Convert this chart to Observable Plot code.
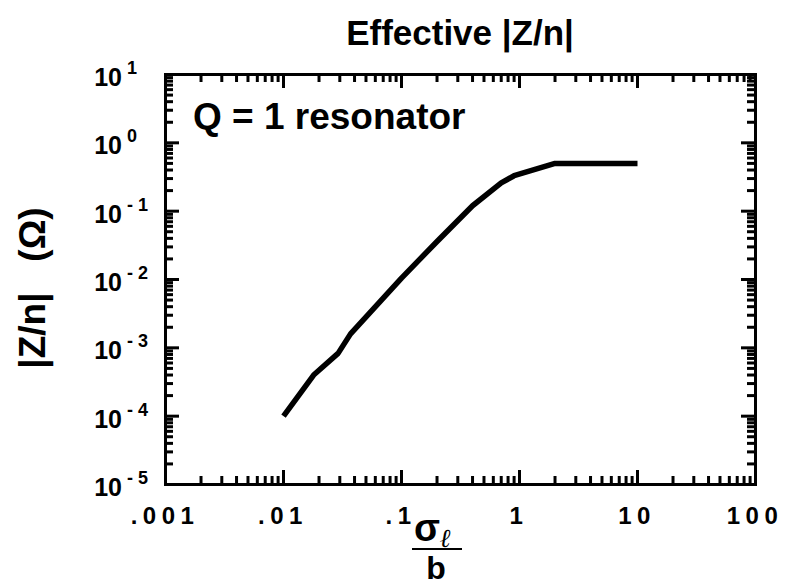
<!DOCTYPE html>
<html><head><meta charset="utf-8">
<script src="https://cdn.jsdelivr.net/npm/d3@7"></script>
<script src="https://cdn.jsdelivr.net/npm/@observablehq/plot@0.6"></script>
<style>
html,body{margin:0;padding:0;background:#fff;}
#chart{width:786px;height:585px;position:relative;}
</style></head><body><div id="chart"></div>
<script>
// Curve: sigma_l / b  vs  |Z/n| (Ohm)
const sigmaOverB = [0.01, 0.018, 0.029, 0.037, 0.1, 0.2, 0.4, 0.7, 0.9, 2, 10];
const zOverN     = [1e-4, 4e-4, 8.3e-4, 1.6e-3, 0.0105, 0.036, 0.12, 0.26, 0.33, 0.5, 0.5];

const xMajor = [0.001, 0.01, 0.1, 1, 10, 100];
const xTickLabels = [".001", ".01", ".1", "1", "10", "100"];
const yMajor = [1e-5, 1e-4, 1e-3, 1e-2, 1e-1, 1, 10];
const yExponents = ["- 5", "- 4", "- 3", "- 2", "- 1", "0", "1"];
const minorMultipliers = [2, 3, 4, 5, 6, 7, 8, 9];

const titleText = "Effective |Z/n|";
const annotationText = "Q = 1 resonator";
const yLabelText = "|Z/n|\u00a0\u00a0\u00a0(\u03a9)";

const xMinor = xMajor.slice(0, -1).flatMap(d => minorMultipliers.map(m => d * m));
const yMinor = yMajor.slice(0, -1).flatMap(d => minorMultipliers.map(m => d * m));
const data = sigmaOverB.map((x, i) => ({x, y: zOverN[i]}));

const FONT = "Liberation Sans, Arial, Helvetica, sans-serif";
const W = 786, H = 585, mL = 165, mR = 31, mT = 74, mB = 101;
const fw = W - mL - mR, fh = H - mT - mB;
const minorLen = 8, majorLen = 14;
const tk = {stroke: "#000", strokeWidth: 3};

const plot = Plot.plot({
  width: W, height: H,
  marginLeft: mL, marginRight: mR, marginTop: mT, marginBottom: mB,
  x: {type: "log", domain: [0.001, 100], axis: null},
  y: {type: "log", domain: [1e-5, 10], axis: null},
  marks: [
    Plot.ruleX(xMinor, {x: d => d, insetTop: fh - minorLen, ...tk}),
    Plot.ruleX(xMajor, {x: d => d, insetTop: fh - majorLen, ...tk}),
    Plot.ruleX(xMinor, {x: d => d, insetBottom: fh - minorLen, ...tk}),
    Plot.ruleX(xMajor, {x: d => d, insetBottom: fh - majorLen, ...tk}),
    Plot.ruleY(yMinor, {y: d => d, insetRight: fw - minorLen, ...tk}),
    Plot.ruleY(yMajor, {y: d => d, insetRight: fw - majorLen, ...tk}),
    Plot.ruleY(yMinor, {y: d => d, insetLeft: fw - minorLen, ...tk}),
    Plot.ruleY(yMajor, {y: d => d, insetLeft: fw - majorLen, ...tk}),
    Plot.frame({stroke: "#000", strokeWidth: 3}),
    Plot.line(data, {x: "x", y: "y", stroke: "#000", strokeWidth: 5.5, strokeLinejoin: "round", strokeLinecap: "butt"})
  ]
});

const svg = d3.select(plot);

// tick labels placed with the plot's own scales
const sx = plot.scale("x"), sy = plot.scale("y");
const lab = svg.append("g").attr("font-family", FONT).attr("font-weight", "bold").attr("fill", "#000");
xMajor.forEach((v, i) => {
  lab.append("text").attr("x", sx.apply(v)).attr("y", 524).attr("text-anchor", "middle")
    .attr("font-size", 24).attr("letter-spacing", "5.5px").text(xTickLabels[i]);
});
yMajor.forEach((v, i) => {
  const py = sy.apply(v);
  lab.append("text").attr("x", 122).attr("y", py + 12).attr("text-anchor", "end").attr("font-size", 25).text("10");
  lab.append("text").attr("x", 127).attr("y", py).attr("text-anchor", "start").attr("font-size", 18).text(yExponents[i]);
});

svg.append("text").attr("x", 460).attr("y", 45).attr("text-anchor", "middle")
  .attr("font-family", FONT).attr("font-weight", "bold").attr("font-size", 35).attr("fill", "#000").text(titleText);

svg.append("text").attr("x", 193).attr("y", 129).attr("text-anchor", "start")
  .attr("font-family", FONT).attr("font-weight", "bold").attr("font-size", 37).attr("fill", "#000").text(annotationText);

svg.append("text").attr("transform", "translate(45,288) rotate(-90)").attr("text-anchor", "middle")
  .attr("font-family", FONT).attr("font-weight", "bold").attr("font-size", 37).attr("fill", "#000").text(yLabelText);

// x-axis label: sigma_l over b
const xl = svg.append("g").attr("font-family", FONT).attr("fill", "#000");
const sig = xl.append("text").attr("x", 414).attr("y", 541).attr("text-anchor", "start").attr("font-size", 38).attr("font-weight", "bold");
sig.append("tspan").text("\u03c3");
sig.append("tspan").attr("dy", 6).attr("font-size", 26).attr("font-style", "italic").attr("font-family", "DejaVu Serif, serif").text("\u2113");
xl.append("line").attr("x1", 412).attr("x2", 462).attr("y1", 549).attr("y2", 549).attr("stroke", "#000").attr("stroke-width", 2);
xl.append("text").attr("x", 436).attr("y", 579).attr("text-anchor", "middle").attr("font-size", 32).attr("font-weight", "bold").text("b");

document.getElementById("chart").appendChild(plot);
</script>
</body></html>
